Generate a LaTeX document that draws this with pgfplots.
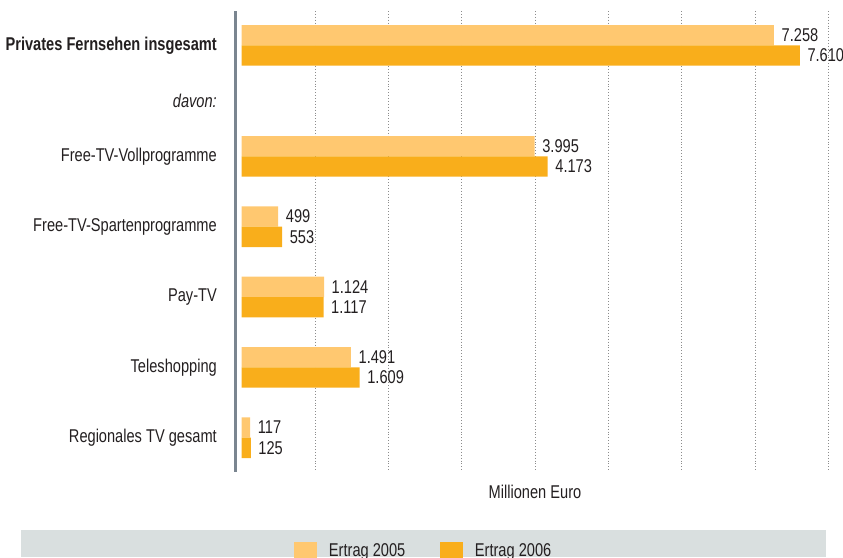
\documentclass[border=0pt]{standalone}
\usepackage{fontspec}
\setmainfont{Liberation Sans}[FakeStretch=0.79]
\usepackage{pgfplots}
\pgfplotsset{compat=1.18}
\definecolor{c05}{HTML}{FFC870}
\definecolor{c06}{HTML}{F9AE1B}
\definecolor{axgray}{HTML}{7A8590}
\definecolor{boxgray}{HTML}{D9DFDF}
\definecolor{txt}{HTML}{231F20}
\begin{document}
\fontsize{18.5}{22}\selectfont
\begin{tikzpicture}[x=1pt,y=1pt]
\useasboundingbox (0,0) rectangle (843,557);
\fill[boxgray] (21,0) rectangle (826,27);
\begin{axis}[
  at={(235pt,85pt)}, anchor=south west,
  scale only axis, width=593.4pt, height=461pt,
  xbar, bar width=20.3,
  xmin=-90, xmax=8000, ymin=11, ymax=472, y dir=reverse,
  axis lines*=left,
  x axis line style={draw=none},
  y axis line style={-, draw=axgray, line width=3pt},
  xtick={1000,2000,...,8000}, xticklabels={},
  major tick length=0pt,
  xmajorgrids,
  grid style={draw=black!45, line width=0.9pt, dash pattern=on 0.9pt off 2pt},
  ytick={45.3,100.5,156.3,226.7,297,367.4,437.7},
  yticklabels={\textbf{Privates Fernsehen insgesamt},\textit{davon:},Free-TV-Vollprogramme,Free-TV-Spartenprogramme,Pay-TV,Teleshopping,Regionales TV gesamt},
  y tick label style={anchor=east, inner sep=0pt, xshift=-18pt, text=txt},
  /pgf/number format/assume math mode=true,
  point meta=x,
  nodes near coords={\pgfmathprintnumber[1000 sep={.}]{\pgfplotspointmeta}},
  nodes near coords style={anchor=west, inner sep=0pt, xshift=7.5pt, text=txt},
  legend style={at={(axis description cs:0.0994,0)}, anchor=north west, yshift=-69.5pt,
    draw=none, fill=none, inner sep=0pt, text=txt,
    /tikz/every odd column/.append style={column sep=9.8pt},
    /tikz/every even column/.append style={column sep=32.8pt}},
  legend columns=2,
  legend image code/.code={\fill[#1] (0pt,-14pt) rectangle (23pt,9.3pt);},
]
\addplot[fill=c05, draw=none, bar shift=-10.15] coordinates {(7258,45.3) (3995,156.3) (499,226.7) (1124,297) (1491,367.4) (117,437.7)};
\addplot[fill=c06, draw=none, bar shift=10.15] coordinates {(7610,45.3) (4173,156.3) (553,226.7) (1117,297) (1609,367.4) (125,437.7)};
\legend{Ertrag 2005,Ertrag 2006}
\end{axis}
\node[anchor=base, text=txt, inner sep=0pt] at (535,59) {Millionen Euro};
\end{tikzpicture}
\end{document}
